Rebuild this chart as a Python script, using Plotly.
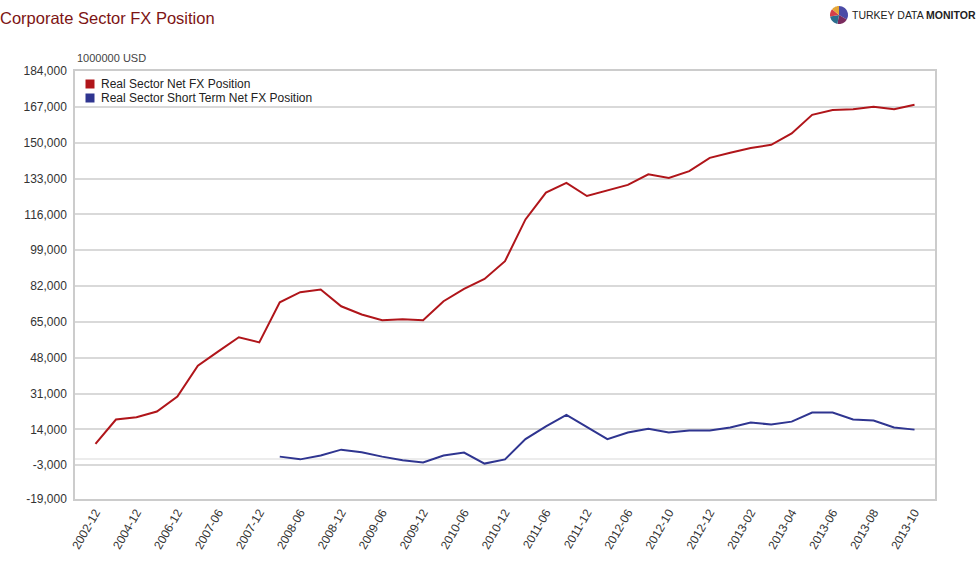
import math
import plotly.graph_objects as go

categories = [
    "2002-12", "2003-12", "2004-12", "2005-12", "2006-12", "2007-03", "2007-06", "2007-09",
    "2007-12", "2008-03", "2008-06", "2008-09", "2008-12", "2009-03", "2009-06", "2009-09",
    "2009-12", "2010-03", "2010-06", "2010-09", "2010-12", "2011-03", "2011-06", "2011-09",
    "2011-12", "2012-03", "2012-06", "2012-09", "2012-10", "2012-11", "2012-12", "2013-01",
    "2013-02", "2013-03", "2013-04", "2013-05", "2013-06", "2013-07", "2013-08", "2013-09",
    "2013-10",
]

net_fx = [
    7100, 18700, 19800, 22500, 29600, 44200, 51000, 57700,
    55300, 74300, 79100, 80400, 72400, 68500, 65800, 66200,
    65800, 74800, 80700, 85400, 93800, 113600, 126300, 130900,
    124700, 127400, 130000, 135000, 133300, 136500, 142800, 145200,
    147500, 149000, 154400, 163200, 165500, 165900, 167000, 165900,
    168000,
]

short_term_fx = [
    None, None, None, None, None, None, None, None,
    None, 1100, -200, 1600, 4400, 3200, 1100, -600,
    -1700, 1600, 3000, -2200, -200, 9400, 15400, 20900,
    15100, 9400, 12500, 14300, 12500, 13500, 13500, 14900,
    17300, 16300, 17700, 22000, 22000, 18700, 18200, 14900,
    13900,
]

series_names = ["Real Sector Net FX Position", "Real Sector Short Term Net FX Position"]
x_tick_labels = categories[::2]
y_tick_values = [184000, 167000, 150000, 133000, 116000, 99000, 82000, 65000, 48000, 31000, 14000, -3000, -19000]
y_tick_labels = [f"{v:,}" for v in y_tick_values]

RED = "#b0151a"
BLUE = "#2f3590"
FONT = "Arial, Liberation Sans, sans-serif"

W, H = 979, 570
ML, MR, MT, MB = 75, 44, 71, 71
PW, PH = W - ML - MR, H - MT - MB


def px_x(px):
    return (px - ML) / PW


def px_y(py):
    return (H - MB - py) / PH


fig = go.Figure()
fig.add_trace(go.Scatter(x=categories, y=net_fx, mode="lines", name=series_names[0],
                         line=dict(color=RED, width=2), showlegend=False))
fig.add_trace(go.Scatter(x=categories, y=short_term_fx, mode="lines", name=series_names[1],
                         line=dict(color=BLUE, width=2), showlegend=False))

shapes = []
annotations = []

# legend (square swatches + labels)
for i, (name, col) in enumerate(zip(series_names, [RED, BLUE])):
    cy = 84 + 14 * i
    shapes.append(dict(type="rect", xref="paper", yref="paper",
                       x0=px_x(85.5), x1=px_x(94.5), y0=px_y(cy + 4.5), y1=px_y(cy - 4.5),
                       fillcolor=col, line=dict(width=0)))
    annotations.append(dict(text=name, xref="paper", yref="paper", x=px_x(99), y=px_y(cy),
                            xanchor="left", yanchor="middle", showarrow=False,
                            font=dict(family=FONT, size=12, color="#222222")))

# small pie logo
logo_colors = ["#4b4ba6", "#7a2b5e", "#2c6e8e", "#d6404a", "#e5a636"]
logo_angles = [90, -30, -100, -170, 140, 90]
cx, cy, r = 839, 15, 9
for i, c in enumerate(logo_colors):
    a0, a1 = logo_angles[i], logo_angles[i + 1]
    if a1 > a0:
        a1 -= 360
    pts = [(cx, cy)]
    n = 12
    for k in range(n + 1):
        a = math.radians(a0 + (a1 - a0) * k / n)
        pts.append((cx + r * math.cos(a), cy - r * math.sin(a)))
    path = "M" + " L".join(f"{px_x(x):.5f},{px_y(y):.5f}" for x, y in pts) + " Z"
    shapes.append(dict(type="path", xref="paper", yref="paper", path=path,
                       fillcolor=c, line=dict(width=0)))

annotations.append(dict(text="1000000 USD", xref="paper", yref="paper", x=0, y=px_y(58),
                        xanchor="left", yanchor="middle", showarrow=False,
                        font=dict(family=FONT, size=11, color="#444444")))
annotations.append(dict(text="TURKEY DATA <b>MONITOR</b>", xref="paper", yref="paper",
                        x=px_x(850), y=px_y(15), xanchor="left", yanchor="middle", showarrow=False,
                        font=dict(family=FONT, size=10.5, color="#222222")))

fig.update_layout(
    width=W, height=H,
    margin=dict(l=ML, r=MR, t=MT, b=MB),
    paper_bgcolor="white", plot_bgcolor="white",
    font=dict(family=FONT, size=12, color="#333333"),
    title=dict(text="Corporate Sector FX Position", x=0.0, xref="container", xanchor="left",
               y=1 - 18 / H, yref="container", yanchor="middle",
               font=dict(family=FONT, size=16.5, color="#7d1414")),
    showlegend=False,
    shapes=shapes,
    annotations=annotations,
)

fig.update_xaxes(
    type="category", categoryorder="array", categoryarray=categories,
    range=[-1, len(categories)],
    tickmode="array", tickvals=x_tick_labels, ticktext=x_tick_labels,
    tickangle=-60, tickfont=dict(family=FONT, size=12, color="#333333"),
    showgrid=False, showline=True, linecolor="#cccccc", linewidth=1.5, mirror=True,
    ticks="", zeroline=False,
)
fig.update_yaxes(
    range=[-19000, 184000],
    tickmode="array", tickvals=y_tick_values, ticktext=y_tick_labels,
    tickfont=dict(family=FONT, size=12, color="#333333"),
    showgrid=True, gridcolor="#d9d9d9", gridwidth=1.5,
    zeroline=True, zerolinecolor="#ececec", zerolinewidth=1.5,
    showline=True, linecolor="#cccccc", linewidth=1.5, mirror=True,
    ticks="", ticklabelstandoff=4,
)

fig.write_html("out.html", config={"displayModeBar": False},
               post_script="document.body.style.margin='0';")
